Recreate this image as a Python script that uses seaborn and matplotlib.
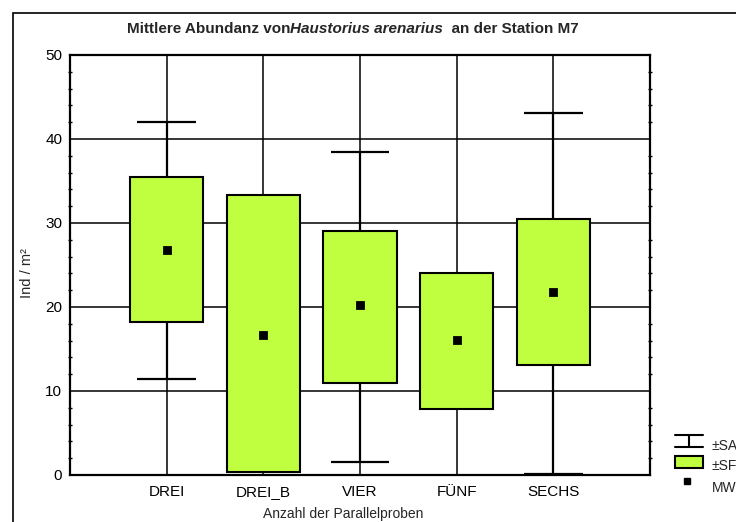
import numpy as np
import pandas as pd
import matplotlib
matplotlib.use("Agg")
import matplotlib.pyplot as plt
import seaborn as sns
from matplotlib.patches import Rectangle
from matplotlib.lines import Line2D
from matplotlib.ticker import MultipleLocator

# ---- data ----
categories = ["DREI", "DREI_B", "VIER", "FÜNF", "SECHS"]
mean_vals = [26.8, 16.7, 20.2, 16.1, 21.8]
se_low = [18.2, 0.3, 11.0, 7.9, 13.1]
se_high = [35.5, 33.3, 29.1, 24.1, 30.5]
sd_low = [11.4, np.nan, 1.5, np.nan, 0.15]
sd_high = [42.0, np.nan, 38.4, np.nan, 43.1]
y_ticks = [0, 10, 20, 30, 40, 50]
title_parts = ["Mittlere Abundanz von", "Haustorius arenarius", "  an der Station M7"]
legend_labels = ["±SA", "±SF", "MW"]
x_label = "Anzahl der Parallelproben"
y_label = "Ind / m²"

BOX_COLOR = "#C0FF40"
W, H = 736, 522

sns.set_theme(style="white")
plt.rcParams["font.family"] = ["Liberation Sans", "DejaVu Sans"]

fig = plt.figure(figsize=(W / 100, H / 100), dpi=100)
ax = fig.add_axes([70 / W, 47 / H, 580 / W, 420 / H])


def fx(px):
    return px / W


def fy(py):
    return 1 - py / H


df = pd.DataFrame({
    "cat": categories,
    "height": np.array(se_high) - np.array(se_low),
    "bottom": se_low,
    "mean": mean_vals,
})

sns.barplot(data=df, x="cat", y="height", order=categories, bottom=df["bottom"].values,
            width=0.76, color=BOX_COLOR, saturation=1, edgecolor="black",
            linewidth=1.5, errorbar=None, ax=ax, zorder=2)

pos = np.arange(len(categories))
cap = 0.305
for i in pos:
    if not np.isnan(sd_low[i]):
        ax.vlines(i, sd_low[i], se_low[i], color="black", lw=1.6, zorder=3)
        ax.hlines(sd_low[i], i - cap, i + cap, color="black", lw=1.6, zorder=3)
    if not np.isnan(sd_high[i]):
        ax.vlines(i, se_high[i], sd_high[i], color="black", lw=1.6, zorder=3)
        ax.hlines(sd_high[i], i - cap, i + cap, color="black", lw=1.6, zorder=3)

sns.pointplot(data=df, x="cat", y="mean", order=categories, linestyle="none",
              marker="s", color="black", markersize=4.5, errorbar=None, ax=ax, zorder=5)

ax.set_xlim(-1, 5)
ax.set_ylim(0, 50)
ax.set_yticks(y_ticks)
ax.set_yticklabels([str(t) for t in y_ticks], fontsize=11)
ax.yaxis.set_minor_locator(MultipleLocator(2))
ax.set_xticks(pos)
ax.set_xticklabels(categories, fontsize=11)
ax.set_axisbelow(True)
ax.grid(True, which="major", axis="both", color="black", lw=1.1)
ax.set_xlabel("")
ax.set_ylabel("")
for s in ax.spines.values():
    s.set_visible(True)
    s.set_color("black")
    s.set_linewidth(1.6)
ax.tick_params(axis="x", which="both", length=0, pad=7, colors="black")
ax.tick_params(axis="y", which="major", length=0, pad=5.5, colors="black", left=True, right=True)
ax.tick_params(axis="y", which="minor", length=3.5, width=1, direction="inout", left=True, right=True, color="black")

fig.text(fx(27), fy(273), y_label, rotation=90, ha="center", va="center", fontsize=10.5)
fig.text(fx(343), fy(514), x_label, ha="center", va="center", fontsize=10)

# outer frame
fig.add_artist(Rectangle((fx(13), -0.1), 1.2, fy(13) + 0.1, transform=fig.transFigure,
                         fill=False, ec="black", lw=1.2))

# title in three pieces
styles = [dict(weight="bold"), dict(weight="bold", style="italic"), dict(weight="bold")]
texts = [fig.text(0, fy(33.3), t, ha="left", va="baseline", fontsize=11, **st)
         for t, st in zip(title_parts, styles)]
fig.canvas.draw()
r = fig.canvas.get_renderer()
widths = [t.get_window_extent(r).width for t in texts]
start = 353 - sum(widths) / 2
for t, w in zip(texts, widths):
    t.set_x(fx(start))
    start += w

# legend drawn manually
lk = dict(transform=fig.transFigure, color="black", lw=1.5)
fig.add_artist(Line2D([fx(675), fx(703)], [fy(435), fy(435)], **lk))
fig.add_artist(Line2D([fx(675), fx(703)], [fy(446.7), fy(446.7)], **lk))
fig.add_artist(Line2D([fx(689), fx(689)], [fy(435), fy(446.7)], **lk))
fig.add_artist(Rectangle((fx(675), fy(467.7)), fx(703) - fx(675), fy(456) - fy(467.7),
                         transform=fig.transFigure, fc=BOX_COLOR, ec="black", lw=1.5))
fig.add_artist(Line2D([fx(687)], [fy(480.7)], marker="s", markersize=4.5, color="black",
                      transform=fig.transFigure, linestyle="none"))
for lab, by in zip(legend_labels, [450, 470, 491.7]):
    fig.text(fx(712), fy(by), lab, ha="left", va="baseline", fontsize=10)

fig.savefig("out.png", dpi=100)
